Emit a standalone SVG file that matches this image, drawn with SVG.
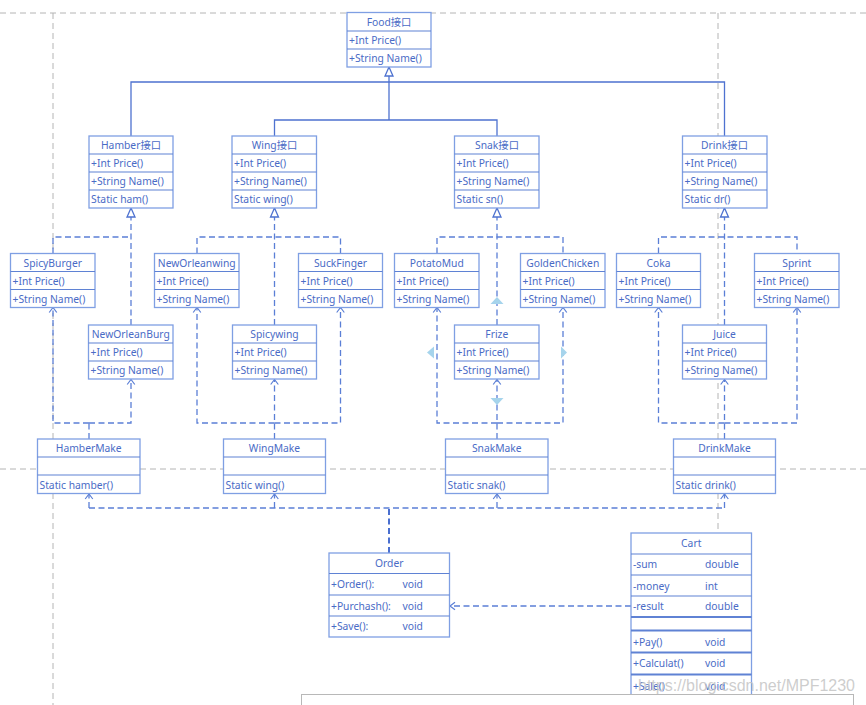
<svg xmlns="http://www.w3.org/2000/svg" width="866" height="705" viewBox="0 0 866 705">
<style>
.box{fill:#fff;stroke:#7f9fe3;stroke-width:1.3}
.sep{stroke:#5f82d4;stroke-width:1.1;fill:none}
.t{font-family:"Noto Sans","Noto Sans CJK SC",sans-serif;font-size:10.3px;fill:#4a6bc6}
.c{text-anchor:middle}
.dash{fill:none;stroke:#5b7fd6;stroke-width:1.3;stroke-dasharray:6 3.5}
.solid{fill:none;stroke:#4e72d0;stroke-width:1.3}
.guide{fill:none;stroke:#b4b4b4;stroke-width:1;stroke-dasharray:6 4}
.sel{fill:#a6d4ec}
</style>
<defs>
<marker id="opn" viewBox="-7 -5 8 10" refX="0" refY="0" markerWidth="8" markerHeight="10" orient="auto" markerUnits="userSpaceOnUse">
<path d="M-5,-3.8 L0,0 L-5,3.8" fill="none" stroke="#5b7fd6" stroke-width="1.2"/>
</marker>
<marker id="tri" viewBox="-11 -6 12 12" refX="0" refY="0" markerWidth="12" markerHeight="12" orient="auto" markerUnits="userSpaceOnUse">
<path d="M0,0 L-9,-4 L-9,4 Z" fill="#fff" stroke="#4e72d0" stroke-width="1.3"/>
</marker>
</defs>
<g id="guides">
<path class="guide" d="M0,13 H866"/>
<path class="guide" d="M53,13 V705"/>
<path class="guide" d="M718,13 V533"/>
<path class="guide" d="M0,469 H866"/>
</g>
<g id="connectors">
<path class="solid" d="M389,120 V67" marker-end="url(#tri)"/>
<path class="solid" d="M131,136 V82 H724.5 V136"/>
<path class="solid" d="M274.5,136 V120 H497 V136"/>
<path class="dash" d="M131,325 V208" marker-end="url(#tri)"/>
<path class="dash" d="M53,253.5 V237 H131"/>
<path class="dash" d="M89,423 H53 V307.5" marker-end="url(#opn)"/>
<path class="dash" d="M89,423 H131 V379.5" marker-end="url(#opn)"/>
<path class="dash" d="M89,439 V423"/>
<path class="dash" d="M274.5,325 V208" marker-end="url(#tri)"/>
<path class="dash" d="M197,253.5 V237 H340.5 V253.5"/>
<path class="dash" d="M274.5,423 H197 V307.5" marker-end="url(#opn)"/>
<path class="dash" d="M274.5,423 H340.5 V307.5" marker-end="url(#opn)"/>
<path class="dash" d="M274.5,439 V379.5" marker-end="url(#opn)"/>
<path class="dash" d="M497,325 V208" marker-end="url(#tri)"/>
<path class="dash" d="M437,253.5 V237 H563 V253.5"/>
<path class="dash" d="M497,423 H437 V307.5" marker-end="url(#opn)"/>
<path class="dash" d="M497,423 H563 V307.5" marker-end="url(#opn)"/>
<path class="dash" d="M497,439 V379.5" marker-end="url(#opn)"/>
<path class="dash" d="M724.5,325 V208" marker-end="url(#tri)"/>
<path class="dash" d="M658.5,253.5 V237 H797 V253.5"/>
<path class="dash" d="M724.5,423 H658.5 V307.5" marker-end="url(#opn)"/>
<path class="dash" d="M724.5,423 H797 V307.5" marker-end="url(#opn)"/>
<path class="dash" d="M724.5,439 V379.5" marker-end="url(#opn)"/>
<path class="dash" d="M389,553 V508" style="stroke:#4a6fd0;stroke-width:2"/>
<path class="dash" d="M89,508 H724.5"/>
<path class="dash" d="M89,508 V494" marker-end="url(#opn)"/>
<path class="dash" d="M274.5,508 V494" marker-end="url(#opn)"/>
<path class="dash" d="M497,508 V494" marker-end="url(#opn)"/>
<path class="dash" d="M724.5,508 V494" marker-end="url(#opn)"/>
<path class="dash" d="M631,606 H450" marker-end="url(#opn)"/>
</g>
<g id="food">
<rect class="box" x="347" y="12.5" width="84" height="54.5"/>
<path class="sep" d="M347,31 H431 M347,49 H431"/>
<text class="t c" x="389" y="25.5">Food接口</text>
<text class="t" x="349" y="44">+Int Price()</text>
<text class="t" x="349" y="62">+String Name()</text>
</g>
<g id="hamber">
<rect class="box" x="89" y="136" width="84" height="72"/>
<path class="sep" d="M89,154 H173 M89,172 H173 M89,190 H173"/>
<text class="t c" x="131" y="149">Hamber接口</text>
<text class="t" x="91" y="167">+Int Price()</text>
<text class="t" x="91" y="185">+String Name()</text>
<text class="t" x="91" y="203">Static ham()</text>
</g>
<g id="wing">
<rect class="box" x="232" y="136" width="84.5" height="72"/>
<path class="sep" d="M232,154 H316.5 M232,172 H316.5 M232,190 H316.5"/>
<text class="t c" x="274.5" y="149">Wing接口</text>
<text class="t" x="234" y="167">+Int Price()</text>
<text class="t" x="234" y="185">+String Name()</text>
<text class="t" x="234" y="203">Static wing()</text>
</g>
<g id="snak">
<rect class="box" x="454.5" y="136" width="84.5" height="72"/>
<path class="sep" d="M454.5,154 H539 M454.5,172 H539 M454.5,190 H539"/>
<text class="t c" x="497" y="149">Snak接口</text>
<text class="t" x="456.5" y="167">+Int Price()</text>
<text class="t" x="456.5" y="185">+String Name()</text>
<text class="t" x="456.5" y="203">Static sn()</text>
</g>
<g id="drink">
<rect class="box" x="682.5" y="136" width="84.5" height="72"/>
<path class="sep" d="M682.5,154 H767 M682.5,172 H767 M682.5,190 H767"/>
<text class="t c" x="724.5" y="149">Drink接口</text>
<text class="t" x="684.5" y="167">+Int Price()</text>
<text class="t" x="684.5" y="185">+String Name()</text>
<text class="t" x="684.5" y="203">Static dr()</text>
</g>
<g id="spicyburger">
<rect class="box" x="10.5" y="253.5" width="84.5" height="54"/>
<path class="sep" d="M10.5,271.5 H95 M10.5,289.5 H95"/>
<text class="t c" x="52.75" y="266.5">SpicyBurger</text>
<text class="t" x="12.5" y="284.5">+Int Price()</text>
<text class="t" x="12.5" y="302.5">+String Name()</text>
</g>
<g id="neworleanwing">
<rect class="box" x="154.5" y="253.5" width="84.5" height="54"/>
<path class="sep" d="M154.5,271.5 H239 M154.5,289.5 H239"/>
<text class="t c" x="196.75" y="266.5">NewOrleanwing</text>
<text class="t" x="156.5" y="284.5">+Int Price()</text>
<text class="t" x="156.5" y="302.5">+String Name()</text>
</g>
<g id="suckfinger">
<rect class="box" x="298.5" y="253.5" width="84" height="54"/>
<path class="sep" d="M298.5,271.5 H382.5 M298.5,289.5 H382.5"/>
<text class="t c" x="340.5" y="266.5">SuckFinger</text>
<text class="t" x="300.5" y="284.5">+Int Price()</text>
<text class="t" x="300.5" y="302.5">+String Name()</text>
</g>
<g id="potatomud">
<rect class="box" x="394.5" y="253.5" width="84.5" height="54"/>
<path class="sep" d="M394.5,271.5 H479 M394.5,289.5 H479"/>
<text class="t c" x="436.75" y="266.5">PotatoMud</text>
<text class="t" x="396.5" y="284.5">+Int Price()</text>
<text class="t" x="396.5" y="302.5">+String Name()</text>
</g>
<g id="goldenchicken">
<rect class="box" x="520.5" y="253.5" width="84.5" height="54"/>
<path class="sep" d="M520.5,271.5 H605 M520.5,289.5 H605"/>
<text class="t c" x="562.75" y="266.5">GoldenChicken</text>
<text class="t" x="522.5" y="284.5">+Int Price()</text>
<text class="t" x="522.5" y="302.5">+String Name()</text>
</g>
<g id="coka">
<rect class="box" x="616.5" y="253.5" width="84" height="54"/>
<path class="sep" d="M616.5,271.5 H700.5 M616.5,289.5 H700.5"/>
<text class="t c" x="658.5" y="266.5">Coka</text>
<text class="t" x="618.5" y="284.5">+Int Price()</text>
<text class="t" x="618.5" y="302.5">+String Name()</text>
</g>
<g id="sprint">
<rect class="box" x="754.5" y="253.5" width="84.5" height="54"/>
<path class="sep" d="M754.5,271.5 H839 M754.5,289.5 H839"/>
<text class="t c" x="796.75" y="266.5">Sprint</text>
<text class="t" x="756.5" y="284.5">+Int Price()</text>
<text class="t" x="756.5" y="302.5">+String Name()</text>
</g>
<g id="neworleanburg">
<rect class="box" x="88.5" y="325" width="84.5" height="54"/>
<path class="sep" d="M88.5,343 H173 M88.5,361 H173"/>
<text class="t c" x="130.75" y="338">NewOrleanBurg</text>
<text class="t" x="90.5" y="356">+Int Price()</text>
<text class="t" x="90.5" y="374">+String Name()</text>
</g>
<g id="spicywing">
<rect class="box" x="232.5" y="325" width="84" height="54"/>
<path class="sep" d="M232.5,343 H316.5 M232.5,361 H316.5"/>
<text class="t c" x="274.5" y="338">Spicywing</text>
<text class="t" x="234.5" y="356">+Int Price()</text>
<text class="t" x="234.5" y="374">+String Name()</text>
</g>
<g id="frize">
<rect class="box" x="454.5" y="325" width="84.5" height="54"/>
<path class="sep" d="M454.5,343 H539 M454.5,361 H539"/>
<text class="t c" x="496.75" y="338">Frize</text>
<text class="t" x="456.5" y="356">+Int Price()</text>
<text class="t" x="456.5" y="374">+String Name()</text>
</g>
<g id="juice">
<rect class="box" x="682.5" y="325" width="84" height="54"/>
<path class="sep" d="M682.5,343 H766.5 M682.5,361 H766.5"/>
<text class="t c" x="724.5" y="338">Juice</text>
<text class="t" x="684.5" y="356">+Int Price()</text>
<text class="t" x="684.5" y="374">+String Name()</text>
</g>
<g id="selection">
<path class="sel" d="M497,297 L503.5,304 L490.5,304 Z"/>
<path class="sel" d="M427,352.5 L434,346.5 L434,358.5 Z"/>
<path class="sel" d="M567,352.5 L561,346.5 L561,358.5 Z"/>
<path class="sel" d="M497,405 L503.5,398 L490.5,398 Z"/>
</g>
<g id="hambermake">
<rect class="box" x="37.5" y="439" width="102.5" height="54.5"/>
<path class="sep" d="M37.5,457 H140 M37.5,475 H140"/>
<text class="t c" x="88.75" y="452">HamberMake</text>
<text class="t" x="39.5" y="488.5">Static hamber()</text>
</g>
<g id="wingmake">
<rect class="box" x="223.5" y="439" width="102" height="54.5"/>
<path class="sep" d="M223.5,457 H325.5 M223.5,475 H325.5"/>
<text class="t c" x="274.5" y="452">WingMake</text>
<text class="t" x="225.5" y="488.5">Static wing()</text>
</g>
<g id="snakmake">
<rect class="box" x="445.5" y="439" width="102.5" height="54.5"/>
<path class="sep" d="M445.5,457 H548 M445.5,475 H548"/>
<text class="t c" x="496.75" y="452">SnakMake</text>
<text class="t" x="447.5" y="488.5">Static snak()</text>
</g>
<g id="drinkmake">
<rect class="box" x="673.5" y="439" width="102" height="54.5"/>
<path class="sep" d="M673.5,457 H775.5 M673.5,475 H775.5"/>
<text class="t c" x="724.5" y="452">DrinkMake</text>
<text class="t" x="675.5" y="488.5">Static drink()</text>
</g>
<g id="order">
<rect class="box" x="329" y="553" width="120.5" height="84"/>
<path class="sep" d="M329,573.5 H449.5 M329,595 H449.5 M329,616 H449.5"/>
<text class="t c" x="389.25" y="567">Order</text>
<text class="t" x="331" y="588">+Order():</text>
<text class="t" x="402.5" y="588">void</text>
<text class="t" x="331" y="610">+Purchash():</text>
<text class="t" x="402.5" y="610">void</text>
<text class="t" x="331" y="630">+Save():</text>
<text class="t" x="402.5" y="630">void</text>
</g>
<g id="cart">
<rect class="box" x="631" y="533" width="120.5" height="170"/>
<path class="sep" d="M631,554 H751.5 M631,575 H751.5 M631,596 H751.5"/>
<path class="sep" style="stroke-width:2" d="M631,617 H751.5 M631,630.5 H751.5 M631,652.5 H751.5 M631,674.5 H751.5"/>
<text class="t c" x="691.25" y="547">Cart</text>
<text class="t" x="633" y="568">-sum</text>
<text class="t" x="705" y="568">double</text>
<text class="t" x="633" y="590">-money</text>
<text class="t" x="705" y="590">int</text>
<text class="t" x="633" y="610">-result</text>
<text class="t" x="705" y="610">double</text>
<text class="t" x="633" y="646">+Pay()</text>
<text class="t" x="705" y="646">void</text>
<text class="t" x="633" y="667">+Calculat()</text>
<text class="t" x="705" y="667">void</text>
<text class="t" x="633" y="690">+Sale()</text>
<text class="t" x="705" y="690">void</text>
</g>
<rect x="301.5" y="694.5" width="552" height="20" fill="#fff" stroke="#b8b8b8" stroke-width="1"/>
<text x="638" y="691" font-family="Liberation Sans, Arial, sans-serif" font-size="16" fill="#c4c4c4" fill-opacity="0.85">https://blog.csdn.net/MPF1230</text>
</svg>
